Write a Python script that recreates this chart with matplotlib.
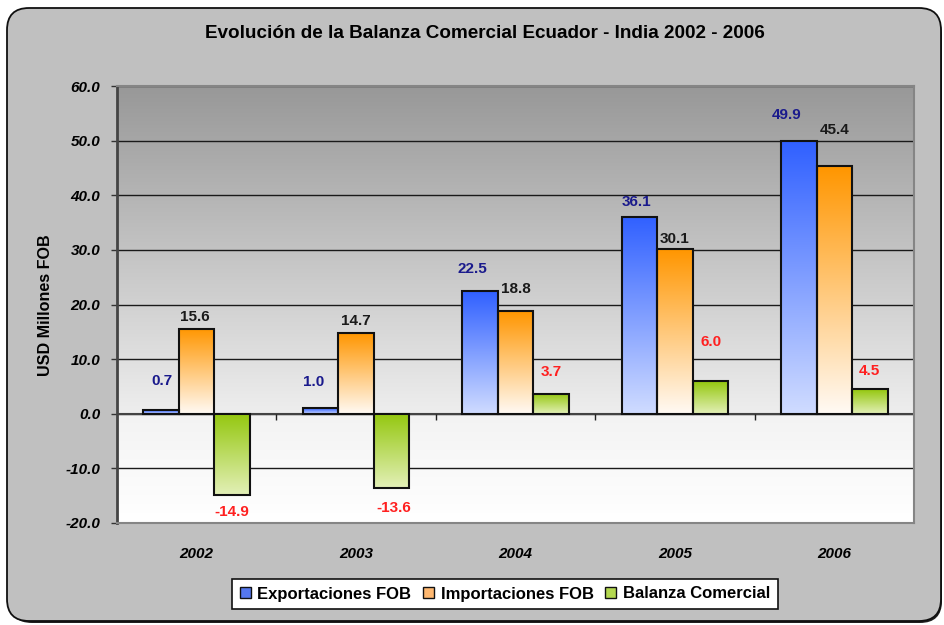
import numpy as np
import matplotlib
matplotlib.use('Agg')
import matplotlib.pyplot as plt
from matplotlib.patches import FancyBboxPatch, Patch
from matplotlib.transforms import IdentityTransform
from matplotlib.colors import to_rgb

years = ['2002', '2003', '2004', '2005', '2006']
exportaciones = [0.7, 1.0, 22.5, 36.1, 49.9]
importaciones = [15.6, 14.7, 18.8, 30.1, 45.4]
balanza = [-14.9, -13.6, 3.7, 6.0, 4.5]
series_names = ['Exportaciones FOB', 'Importaciones FOB', 'Balanza Comercial']

# label offsets (pixels) as placed in the original chart
lab_dx = [[1, -7, -8, -3, -12], [-2, 0, 0, 0, 0], [0, 2, 0, 1, 0]]
lab_dy = [[29, 26, 22, 15, 26], [12, 12, 22, 10, 36], [-17, -20, 22, 39, 18]]

SANS = ['Liberation Sans', 'DejaVu Sans']

W, H = 944, 625
fig = plt.figure(figsize=(W / 100, H / 100), dpi=100)
fig.patch.set_facecolor('white')

# rounded chart frame with a small shadow
shadow = FancyBboxPatch((10, 2), 932, 610, boxstyle='round,pad=0,rounding_size=22',
                        transform=IdentityTransform(), facecolor='#202020',
                        edgecolor='none', zorder=-3)
frame = FancyBboxPatch((7, 4), 934, 613, boxstyle='round,pad=0,rounding_size=22',
                       transform=IdentityTransform(), facecolor='#c0c0c0',
                       edgecolor='#101010', lw=1.3, zorder=-2)
fig.patches.extend([shadow, frame])

ax = fig.add_axes([117 / W, 1 - 523 / H, (914 - 117) / W, (523 - 86) / H])
ax.set_facecolor('none')

ymin, ymax = -20, 60
x = np.arange(len(years))

# plot area background gradient
yy = np.linspace(ymax, ymin, 400)
stops_y = [60, 0, -0.01, -20]
stops_c = [to_rgb('#989898'), to_rgb('#eeeeee'), to_rgb('#f3f3f3'), to_rgb('#ffffff')]
bg = np.stack([np.interp(-yy, [-s for s in stops_y], [c[i] for c in stops_c]) for i in range(3)], axis=-1)
ax.imshow(bg[:, None, :], extent=(-0.5, 4.5, ymin, ymax), aspect='auto', zorder=0,
          interpolation='bilinear')


def grad(top, bottom, n=200):
    t = np.linspace(0, 1, n)[:, None]
    a, b = np.array(to_rgb(top)), np.array(to_rgb(bottom))
    return (a * (1 - t) + b * t)[:, None, :]


styles = [
    ('#3060ff', '#d0dcff', '#5577ee', '#1a1a8c'),
    ('#ff9600', '#fffaf4', '#ffb870', '#1a1a1a'),
    ('#94c70e', '#e3f0b8', '#b4d850', '#ff2020'),
]
bw = 0.223
for k, vals in enumerate([exportaciones, importaciones, balanza]):
    top, bot, mid, lab_color = styles[k]
    pos = x + (k - 1) * bw
    ax.bar(pos, vals, width=bw, facecolor='none', edgecolor='#111111', lw=1.5, zorder=4)
    g = grad(top, bot)
    for i, (p, v) in enumerate(zip(pos, vals)):
        y0, y1 = (0, v) if v >= 0 else (v, 0)
        ax.imshow(g, extent=(p - bw / 2, p + bw / 2, y0, y1), aspect='auto', zorder=3,
                  interpolation='bilinear')
        ax.annotate(f'{v:.1f}', xy=(p, v), xytext=(lab_dx[k][i], lab_dy[k][i]),
                    textcoords='offset pixels', ha='center', va='center', color=lab_color,
                    fontsize=11, fontweight='bold', family=SANS, zorder=6)

ax.set_xlim(-0.5, 4.5)
ax.set_ylim(ymin, ymax)

ax.set_yticks(np.arange(ymin, ymax + 1, 10))
ax.set_yticklabels([f'{v:.1f}' for v in np.arange(ymin, ymax + 1, 10)],
                   fontsize=11, fontweight='bold', style='italic', family=SANS)
ax.yaxis.grid(True, color='#1a1a1a', lw=1)
ax.set_axisbelow(True)
for gl in ax.yaxis.get_gridlines():
    gl.set_zorder(1)
ax.tick_params(axis='y', length=4, width=1, color='#333333', pad=8)

ax.set_xticks(x)
ax.set_xticklabels(years, fontsize=11, fontweight='bold', style='italic', family=SANS)
ax.tick_params(axis='x', length=0, pad=17)

# zero line and category separators
ax.axhline(0, color='#444444', lw=1.5, zorder=2)
ax.vlines(np.arange(len(years)) + 0.5, -1.1, 0, color='#222222', lw=1, zorder=2)

ax.spines['left'].set_color('#444444')
ax.spines['left'].set_linewidth(2)
for s in ['top', 'right', 'bottom']:
    ax.spines[s].set_color('#858585')
    ax.spines[s].set_linewidth(1.5)

fig.text(485 / W, 1 - 34 / H, 'Evolución de la Balanza Comercial Ecuador - India 2002 - 2006',
         ha='center', va='center', fontsize=13.6, fontweight='bold', family=SANS)
fig.text(46 / W, 1 - 305 / H, 'USD Millones FOB', rotation=90, ha='center', va='center',
         fontsize=11.6, fontweight='bold', family=SANS)

handles = [Patch(facecolor=s[2], edgecolor='#111111', lw=1) for s in styles]
leg = fig.legend(handles, series_names, loc='center', bbox_to_anchor=(505 / W, 1 - 594 / H),
                 ncol=3, frameon=True, fancybox=False, framealpha=1, facecolor='white',
                 edgecolor='#111111', handlelength=0.65, handleheight=0.65, handletextpad=0.4,
                 columnspacing=0.7, borderpad=0.45,
                 prop={'family': SANS, 'weight': 'bold', 'size': 12})
leg.get_frame().set_linewidth(1.2)

fig.savefig('out.png', dpi=100)
